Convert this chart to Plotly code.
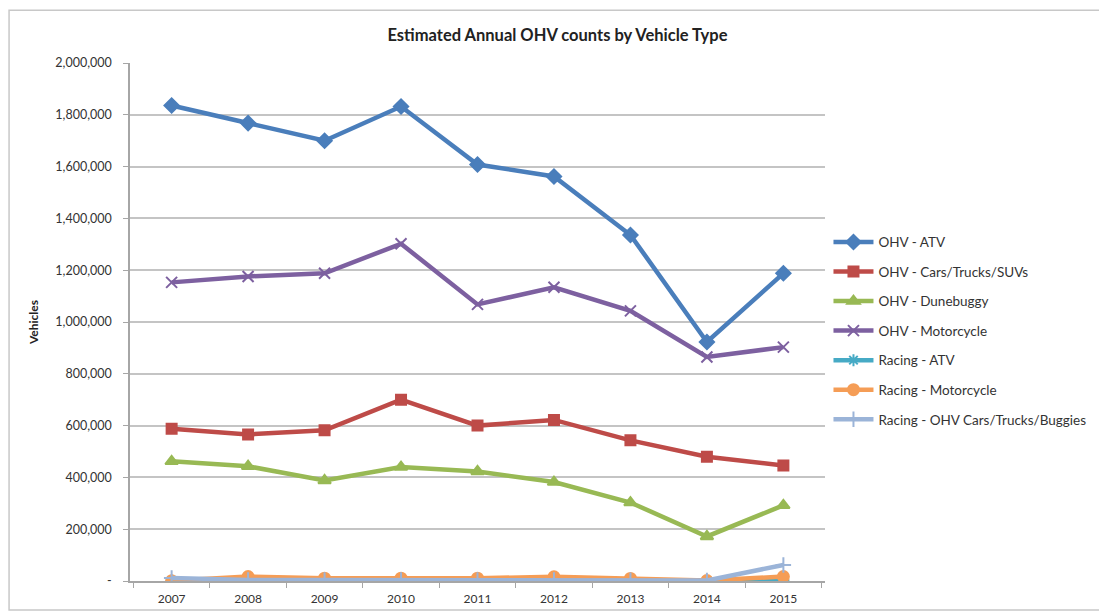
import plotly.graph_objects as go

years = ["2007", "2008", "2009", "2010", "2011", "2012", "2013", "2014", "2015"]

ohv_atv = [1836000, 1768000, 1700000, 1832000, 1608000, 1562000, 1336000, 923000, 1188000]
ohv_cars = [588000, 566000, 582000, 700000, 600000, 622000, 543000, 480000, 446000]
ohv_dunebuggy = [462000, 443000, 388000, 440000, 423000, 382000, 303000, 172000, 292000]
ohv_motorcycle = [1153000, 1176000, 1188000, 1302000, 1068000, 1134000, 1043000, 865000, 903000]
racing_atv = [2000, 2500, 2500, 2000, 2000, 2500, 2000, 1500, 3000]
racing_motorcycle = [1000, 17000, 11000, 11000, 11000, 16000, 10000, 2000, 17000]
racing_ohv_cars = [12000, 4000, 4000, 4000, 4000, 4000, 3000, 2000, 62000]

series = [
    ("OHV - ATV", ohv_atv, "#4a7ebb", "diamond", 11),
    ("OHV - Cars/Trucks/SUVs", ohv_cars, "#be4b48", "square", 10),
    ("OHV - Dunebuggy", ohv_dunebuggy, "#98b954", "triangle-up", 11),
    ("OHV - Motorcycle", ohv_motorcycle, "#7d60a0", "x-thin-open", 11),
    ("Racing - ATV", racing_atv, "#46aac5", "asterisk-open", 10),
    ("Racing - Motorcycle", racing_motorcycle, "#f59d56", "circle", 11),
    ("Racing - OHV Cars/Trucks/Buggies", racing_ohv_cars, "#9bb4d8", "cross-thin-open", 11),
]

y_ticks = [0, 200000, 400000, 600000, 800000, 1000000, 1200000, 1400000, 1600000, 1800000, 2000000]
y_labels = ["-", "200,000", "400,000", "600,000", "800,000", "1,000,000", "1,200,000",
            "1,400,000", "1,600,000", "1,800,000", "2,000,000"]

fig = go.Figure()
for i, (name, vals, col, sym, size) in enumerate(series):
    fig.add_trace(go.Scatter(
        x=years, y=vals, name=name, mode="lines+markers",
        line=dict(color=col, width=4.5),
        marker=dict(symbol=sym, size=size, color=col, line=dict(color=col, width=2)),
        legendgroup="g%d" % i,
    ))

# the page puts the plot 8px in from the corner, so the figure is 8px smaller
fig.update_layout(
    width=1099, height=607,
    paper_bgcolor="white", plot_bgcolor="white",
    margin=dict(l=122, r=282, t=55, b=34),
    font=dict(family="Lato", size=12, color="#404040"),
    title=dict(text="<b>Estimated Annual OHV counts by Vehicle Type</b>",
               x=0.5, xref="container", y=0.955, yref="container", yanchor="middle",
               font=dict(family="Lato", size=16.5, color="#222222")),
    legend=dict(x=1.005, xanchor="left", y=0.684, yanchor="top",
                font=dict(family="Lato", size=13.5, color="#333333"),
                tracegroupgap=9, itemwidth=40, bgcolor="rgba(0,0,0,0)"),
    showlegend=True,
)
fig.update_xaxes(type="category", showline=True, linecolor="#a6a6a6", linewidth=1.5,
                 ticks="outside", tickson="boundaries", ticklen=5, tickcolor="#a6a6a6",
                 ticklabelstandoff=6, automargin=False,
                 showgrid=False, tickfont=dict(size=12, color="#333333"))
fig.update_yaxes(range=[0, 2000000], tickvals=y_ticks, ticktext=y_labels,
                 showline=True, linecolor="#a6a6a6", linewidth=1.5,
                 ticks="outside", ticklen=5, tickcolor="#a6a6a6",
                 ticklabelstandoff=9, automargin=False,
                 showgrid=True, gridcolor="#c4c4c4", gridwidth=1.5, zeroline=False,
                 tickfont=dict(size=12.5, color="#333333"),
                 title=dict(text="<b>Vehicles</b>", standoff=14,
                            font=dict(size=12, color="#222222")))

# light frame around the whole chart
fig.add_shape(type="rect", xref="paper", yref="paper",
              x0=-0.174, x1=1.40, y0=-0.056, y1=1.102,
              line=dict(color="#c8c8c8", width=1.5))

fig.write_html("out.html")
